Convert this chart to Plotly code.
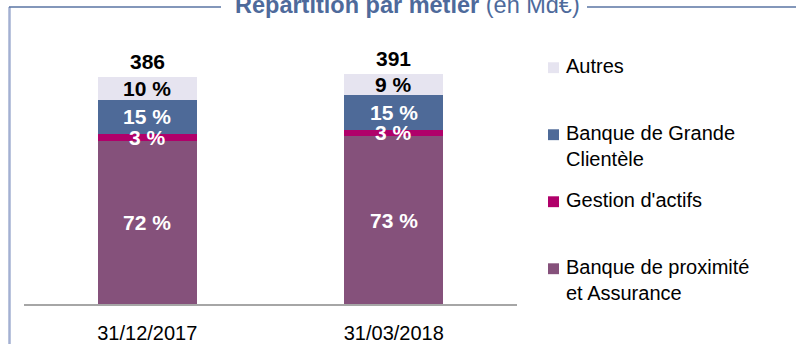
import plotly.graph_objects as go

# --- data -------------------------------------------------------------
dates = ["31/12/2017", "31/03/2018"]
totals = [386, 391]  # Md€

# business lines, stacked bottom to top
series_names = [
    "Banque de proximité<br>et Assurance",
    "Gestion d'actifs",
    "Banque de Grande<br>Clientèle",
    "Autres",
]
share_bpa = [72, 73]
share_gestion = [3, 3]
share_bgc = [15, 15]
share_autres = [10, 9]

shares = [share_bpa, share_gestion, share_bgc, share_autres]
colors = ["#85517B", "#B0006A", "#4E6A98", "#E6E4F0"]
label_colors = ["white", "white", "white", "black"]

# --- layout helpers (pixel geometry of an 796x344 canvas) ---------------
W, H = 796, 344
def px(x):
    return x / W
def py(y):
    return (H - y) / H

SANS = "Liberation Sans, Arial, sans-serif"

fig = go.Figure()

# stacked bars: each segment = total * share
for name, sh, col in zip(series_names, shares, colors):
    fig.add_trace(go.Bar(
        x=dates,
        y=[t * s / 100 for t, s in zip(totals, sh)],
        name=name.replace("<br>", " "),
        marker=dict(color=col, line=dict(width=0)),
        showlegend=False,
        hoverinfo="skip",
    ))

annotations = []

# percentage labels centred in each segment
for i, d in enumerate(dates):
    base = 0.0
    for sh, tc in zip(shares, label_colors):
        v = totals[i] * sh[i] / 100
        annotations.append(dict(
            x=d, y=base + v / 2, xref="x", yref="y",
            text=f"<b>{sh[i]} %</b>", showarrow=False,
            font=dict(family=SANS, size=21, color=tc),
            yanchor="middle",
        ))
        base += v
    # total above the bar
    annotations.append(dict(
        x=d, y=totals[i], xref="x", yref="y",
        text=f"<b>{totals[i]}</b>", showarrow=False,
        font=dict(family=SANS, size=21, color="black"),
        yanchor="bottom", yshift=2,
    ))

# legend, top entry first
shapes = []
first_line = 67.5
step = 67.8
for k, (name, col) in enumerate(zip(reversed(series_names), reversed(colors))):
    yc = first_line + k * step
    shapes.append(dict(
        type="rect", xref="paper", yref="paper",
        x0=px(548), x1=px(559), y0=py(yc - 4.5), y1=py(yc + 6.5),
        fillcolor=col, line=dict(width=0),
    ))
    annotations.append(dict(
        x=px(564), y=py(yc - 14), xref="paper", yref="paper",
        text=name, showarrow=False, align="left",
        xanchor="left", yanchor="top",
        font=dict(family=SANS, size=20, color="black"),
    ))

# title set into the frame's top edge
annotations.append(dict(
    x=px(407), y=py(5.5), xref="paper", yref="paper",
    text="<b>Répartition par métier</b> (en Md€)", showarrow=False,
    xanchor="center", yanchor="middle",
    font=dict(family=SANS, size=23.5, color="#4E6A9B"),
))

# frame lines
shapes += [
    dict(type="line", xref="paper", yref="paper",
         x0=px(9.5), x1=px(9.5), y0=py(7), y1=py(H + 5),
         line=dict(color="#A3B0D2", width=2.5)),
    dict(type="line", xref="paper", yref="paper",
         x0=px(9), x1=px(221), y0=py(7), y1=py(7),
         line=dict(color="#5A74A3", width=1.5)),
    dict(type="line", xref="paper", yref="paper",
         x0=px(587), x1=px(W + 5), y0=py(7), y1=py(7),
         line=dict(color="#5A74A3", width=1.5)),
]

fig.update_layout(
    width=W, height=H,
    margin=dict(l=0, r=0, t=0, b=0),
    paper_bgcolor="white", plot_bgcolor="white",
    barmode="stack", bargap=0.6,
    annotations=annotations, shapes=shapes,
    xaxis=dict(
        domain=[px(24), px(517)],
        range=[-0.5, 1.5],
        showline=True, linecolor="#A6A6A6", linewidth=2,
        showgrid=False, zeroline=False, ticks="",
        ticklabelstandoff=10,
        tickfont=dict(family=SANS, size=20, color="black"),
    ),
    yaxis=dict(
        domain=[py(308), py(40)],
        range=[0, 450],
        visible=False, showgrid=False, zeroline=False,
    ),
)

fig.write_html("out.html")
